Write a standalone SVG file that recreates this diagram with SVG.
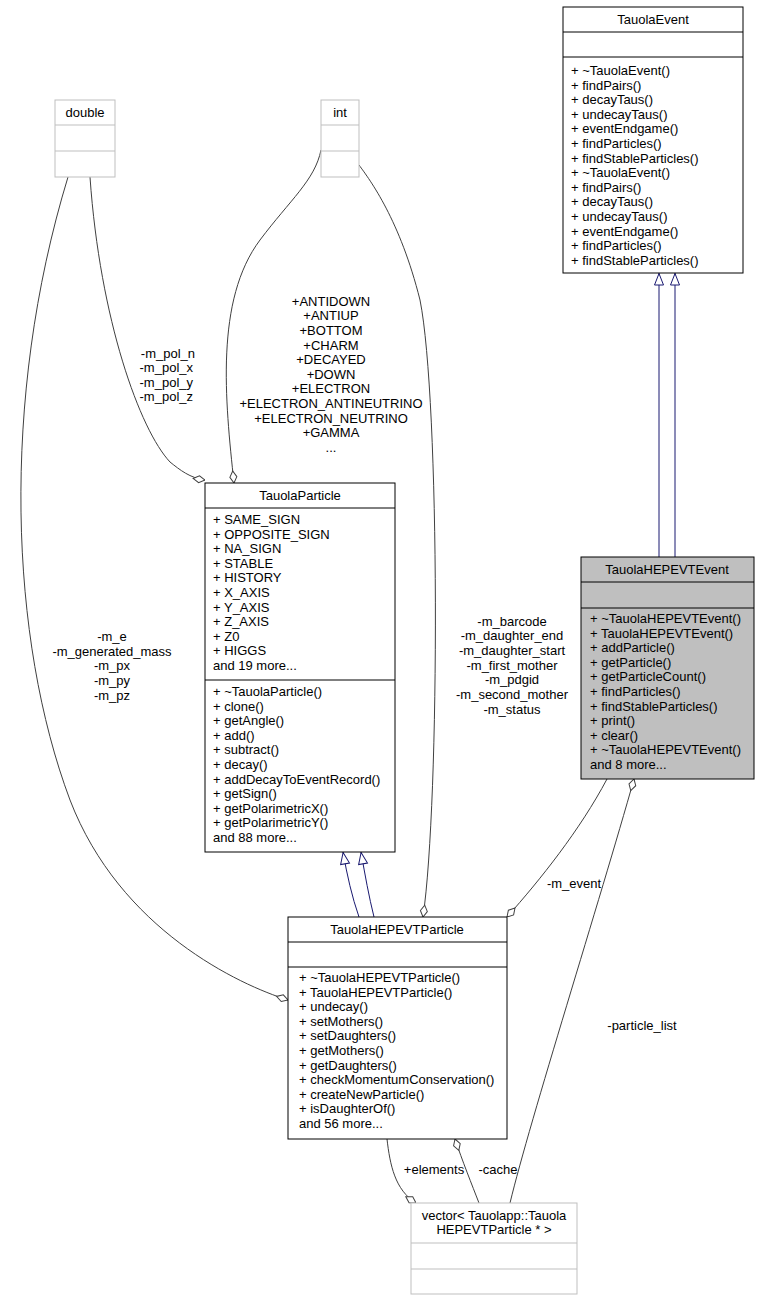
<svg xmlns="http://www.w3.org/2000/svg" width="760" height="1300" viewBox="0 0 760 1300">
<style>
text{font-family:"Liberation Sans",Arial,sans-serif;font-size:13px;fill:#000}
.c{text-anchor:middle}
.r{text-anchor:end}
.box{fill:#fff;stroke:#000;stroke-width:1}
.gbox{fill:#fff;stroke:#bfbfbf;stroke-width:1}
.e{fill:none;stroke:#404040;stroke-width:1}
.i{fill:none;stroke:#191970;stroke-width:1}
</style>
<defs>
<marker id="dia" markerUnits="userSpaceOnUse" markerWidth="14" markerHeight="10" refX="0" refY="5" orient="auto" viewBox="0 0 14 10"><path d="M0,5 L6,1.5 L12,5 L6,8.5 Z" fill="#fff" stroke="#404040"/></marker>
<marker id="tri" markerUnits="userSpaceOnUse" markerWidth="14" markerHeight="12" refX="0" refY="6" orient="auto" viewBox="0 0 14 12"><path d="M0.5,6 L12,1.5 L12,10.5 Z" fill="#fff" stroke="#191970"/></marker>
</defs>
<g id="connectors">
<path class="i" marker-start="url(#tri)" d="M659,273 L659,557"/>
<path class="i" marker-start="url(#tri)" d="M675,273 L675,557"/>
<path class="i" marker-start="url(#tri)" d="M343,852 C347,875 352,897 359,917"/>
<path class="i" marker-start="url(#tri)" d="M361,852 C365,875 369,897 374,917"/>
<path class="e" marker-start="url(#dia)" d="M205,480 C190,478 180,470 170,462 C140,430 100,320 90,177"/>
<path class="e" marker-start="url(#dia)" d="M234,483 C225,400 215,300 260,240 C290,200 315,180 321,150"/>
<path class="e" marker-start="url(#dia)" d="M423,917 C440,800 440,400 420,300 C400,220 370,180 359,165"/>
<path class="e" marker-start="url(#dia)" d="M288,1000 C240,985 120,930 70,800 C10,640 0,400 68,177"/>
<path class="e" marker-start="url(#dia)" d="M507,917 C540,880 580,830 607,779"/>
<path class="e" marker-start="url(#dia)" d="M634,779 C600,900 530,1120 510,1203"/>
<path class="e" marker-start="url(#dia)" d="M416,1203 C395,1190 390,1165 387,1139"/>
<path class="e" marker-start="url(#dia)" d="M455,1139 C462,1160 472,1185 479,1203"/>
<text class="r" x="195" y="358">-m_pol_n</text>
<text class="r" x="193" y="372">-m_pol_x</text>
<text class="r" x="193" y="387">-m_pol_y</text>
<text class="r" x="193" y="401">-m_pol_z</text>
<text class="c" x="331" y="306">+ANTIDOWN</text>
<text class="c" x="331" y="320">+ANTIUP</text>
<text class="c" x="331" y="335">+BOTTOM</text>
<text class="c" x="331" y="350">+CHARM</text>
<text class="c" x="331" y="364">+DECAYED</text>
<text class="c" x="331" y="379">+DOWN</text>
<text class="c" x="331" y="393">+ELECTRON</text>
<text class="c" x="331" y="408">+ELECTRON_ANTINEUTRINO</text>
<text class="c" x="331" y="423">+ELECTRON_NEUTRINO</text>
<text class="c" x="331" y="437">+GAMMA</text>
<text class="c" x="331" y="452">...</text>
<text class="c" x="512" y="626">-m_barcode</text>
<text class="c" x="512" y="640">-m_daughter_end</text>
<text class="c" x="512" y="655">-m_daughter_start</text>
<text class="c" x="512" y="670">-m_first_mother</text>
<text class="c" x="512" y="684">-m_pdgid</text>
<text class="c" x="512" y="699">-m_second_mother</text>
<text class="c" x="512" y="714">-m_status</text>
<text class="c" x="112" y="641">-m_e</text>
<text class="c" x="112" y="656">-m_generated_mass</text>
<text class="c" x="112" y="670">-m_px</text>
<text class="c" x="112" y="685">-m_py</text>
<text class="c" x="112" y="700">-m_pz</text>
<text class="c" x="574" y="888">-m_event</text>
<text class="c" x="642" y="1030">-particle_list</text>
<text class="c" x="434" y="1174">+elements</text>
<text class="c" x="498" y="1174">-cache</text>
</g>
<g id="TauolaEvent">
<rect class="box" x="563" y="7" width="180" height="266"/>
<path d="M563,32 H743 M563,57 H743" stroke="#000"/>
<text class="c" x="653" y="24">TauolaEvent</text>
<text x="571" y="75">+ ~TauolaEvent()</text>
<text x="571" y="89.6">+ findPairs()</text>
<text x="571" y="104.2">+ decayTaus()</text>
<text x="571" y="118.8">+ undecayTaus()</text>
<text x="571" y="133.4">+ eventEndgame()</text>
<text x="571" y="148">+ findParticles()</text>
<text x="571" y="162.6">+ findStableParticles()</text>
<text x="571" y="177.2">+ ~TauolaEvent()</text>
<text x="571" y="191.8">+ findPairs()</text>
<text x="571" y="206.4">+ decayTaus()</text>
<text x="571" y="221">+ undecayTaus()</text>
<text x="571" y="235.6">+ eventEndgame()</text>
<text x="571" y="250.2">+ findParticles()</text>
<text x="571" y="264.8">+ findStableParticles()</text>
</g>
<g id="double">
<rect class="gbox" x="55" y="100" width="60" height="77"/>
<path d="M55,125 H115 M55,151 H115" stroke="#bfbfbf"/>
<text class="c" x="85" y="117">double</text>
</g>
<g id="int">
<rect class="gbox" x="321" y="100" width="38" height="77"/>
<path d="M321,125 H359 M321,151 H359" stroke="#bfbfbf"/>
<text class="c" x="340" y="117">int</text>
</g>
<g id="TauolaParticle">
<rect class="box" x="205" y="483" width="190" height="369"/>
<path d="M205,508 H395 M205,680 H395" stroke="#000"/>
<text class="c" x="300" y="500">TauolaParticle</text>
<text x="213" y="524">+ SAME_SIGN</text>
<text x="213" y="538.6">+ OPPOSITE_SIGN</text>
<text x="213" y="553.2">+ NA_SIGN</text>
<text x="213" y="567.8">+ STABLE</text>
<text x="213" y="582.4">+ HISTORY</text>
<text x="213" y="597">+ X_AXIS</text>
<text x="213" y="611.6">+ Y_AXIS</text>
<text x="213" y="626.2">+ Z_AXIS</text>
<text x="213" y="640.8">+ Z0</text>
<text x="213" y="655.4">+ HIGGS</text>
<text x="213" y="670">and 19 more...</text>
<text x="213" y="696">+ ~TauolaParticle()</text>
<text x="213" y="710.6">+ clone()</text>
<text x="213" y="725.2">+ getAngle()</text>
<text x="213" y="739.8">+ add()</text>
<text x="213" y="754.4">+ subtract()</text>
<text x="213" y="769">+ decay()</text>
<text x="213" y="783.6">+ addDecayToEventRecord()</text>
<text x="213" y="798.2">+ getSign()</text>
<text x="213" y="812.8">+ getPolarimetricX()</text>
<text x="213" y="827.4">+ getPolarimetricY()</text>
<text x="213" y="842">and 88 more...</text>
</g>
<g id="TauolaHEPEVTEvent">
<rect x="581" y="557" width="173" height="222" fill="#bfbfbf" stroke="#000"/>
<path d="M581,582 H754 M581,608 H754" stroke="#000"/>
<text class="c" x="667" y="574">TauolaHEPEVTEvent</text>
<text x="590" y="623">+ ~TauolaHEPEVTEvent()</text>
<text x="590" y="637.6">+ TauolaHEPEVTEvent()</text>
<text x="590" y="652.2">+ addParticle()</text>
<text x="590" y="666.8">+ getParticle()</text>
<text x="590" y="681.4">+ getParticleCount()</text>
<text x="590" y="696">+ findParticles()</text>
<text x="590" y="710.6">+ findStableParticles()</text>
<text x="590" y="725.2">+ print()</text>
<text x="590" y="739.8">+ clear()</text>
<text x="590" y="754.4">+ ~TauolaHEPEVTEvent()</text>
<text x="590" y="769">and 8 more...</text>
</g>
<g id="TauolaHEPEVTParticle">
<rect class="box" x="288" y="917" width="219" height="222"/>
<path d="M288,942 H507 M288,967 H507" stroke="#000"/>
<text class="c" x="397" y="934">TauolaHEPEVTParticle</text>
<text x="299" y="982">+ ~TauolaHEPEVTParticle()</text>
<text x="299" y="996.6">+ TauolaHEPEVTParticle()</text>
<text x="299" y="1011.2">+ undecay()</text>
<text x="299" y="1025.8">+ setMothers()</text>
<text x="299" y="1040.4">+ setDaughters()</text>
<text x="299" y="1055">+ getMothers()</text>
<text x="299" y="1069.6">+ getDaughters()</text>
<text x="299" y="1084.2">+ checkMomentumConservation()</text>
<text x="299" y="1098.8">+ createNewParticle()</text>
<text x="299" y="1113.4">+ isDaughterOf()</text>
<text x="299" y="1128">and 56 more...</text>
</g>
<g id="vector">
<rect class="gbox" x="411" y="1203" width="166" height="91"/>
<path d="M411,1243 H577 M411,1269 H577" stroke="#bfbfbf"/>
<text class="c" x="494" y="1220">vector&lt; Tauolapp::Tauola</text>
<text class="c" x="494" y="1234">HEPEVTParticle * &gt;</text>
</g>
</svg>
